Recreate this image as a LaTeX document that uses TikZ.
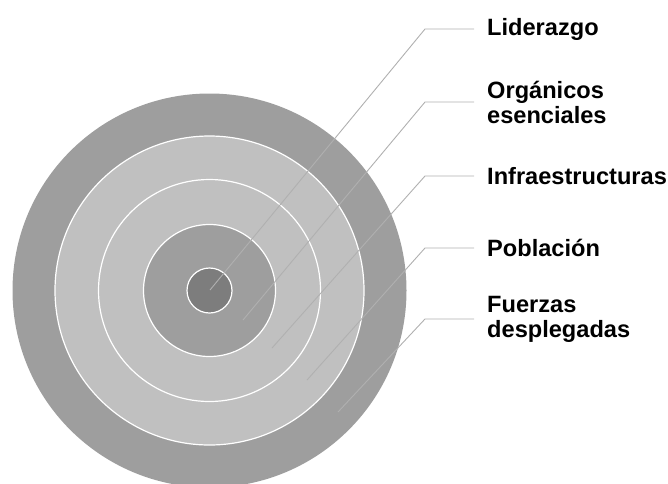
\documentclass[tikz,border=0pt]{standalone}
\usepackage{fontspec}
\setmainfont{Liberation Sans}
\definecolor{ringdark}{HTML}{9E9E9E}
\definecolor{ringlight}{HTML}{C0C0C0}
\definecolor{coredark}{HTML}{7D7D7D}
\definecolor{leader}{HTML}{B0B0B0}
\begin{document}
\begin{tikzpicture}[x=1pt,y=-1pt,
  ring/.style={circle, inner sep=0pt, draw=white, line width=1.2pt, minimum size=#1},
  lab/.style={anchor=west, inner ysep=0pt, inner xsep=13pt, align=left,
    font=\fontsize{23.6}{25}\selectfont\bfseries, text=black},
  lead/.style={draw=leader, line width=0.9pt}]
\useasboundingbox (0,0) rectangle (668,483);
\begin{scope}
\clip (0,0) rectangle (668,483);
\node[ring=394pt, fill=ringdark, draw=none] (r5) at (209.5,290.5) {};
\node[ring=309pt, fill=ringlight] (r4) at (209.5,290.5) {};
\node[ring=222pt, fill=ringlight] (r3) at (209.5,290.5) {};
\node[ring=132pt, fill=ringdark] (r2) at (209.5,290.5) {};
\node[ring=45pt, fill=coredark] (r1) at (209.5,290.5) {};
\end{scope}
\coordinate (s1) at (210,290);
\coordinate (s2) at (243,320);
\coordinate (s3) at (272,348);
\coordinate (s4) at (307,380);
\coordinate (s5) at (338,412);
\coordinate (e1) at (425,29);
\coordinate (e2) at (425,102);
\coordinate (e3) at (425,176);
\coordinate (e4) at (425,248);
\coordinate (e5) at (425,319);
\node[lab] (l1) at (474,29) {Liderazgo};
\node[lab] (l2) at (474,102) {Orgánicos\\esenciales};
\node[lab] (l3) at (474,176) {Infraestructuras};
\node[lab] (l4) at (474,248) {Población};
\node[lab] (l5) at (474,319) {Fuerzas\\desplegadas};
\draw[lead] (s1) -- (e1) -- (l1.west);
\draw[lead] (s2) -- (e2) -- (l2.west);
\draw[lead] (s3) -- (e3) -- (l3.west);
\draw[lead] (s4) -- (e4) -- (l4.west);
\draw[lead] (s5) -- (e5) -- (l5.west);
\end{tikzpicture}
\end{document}
